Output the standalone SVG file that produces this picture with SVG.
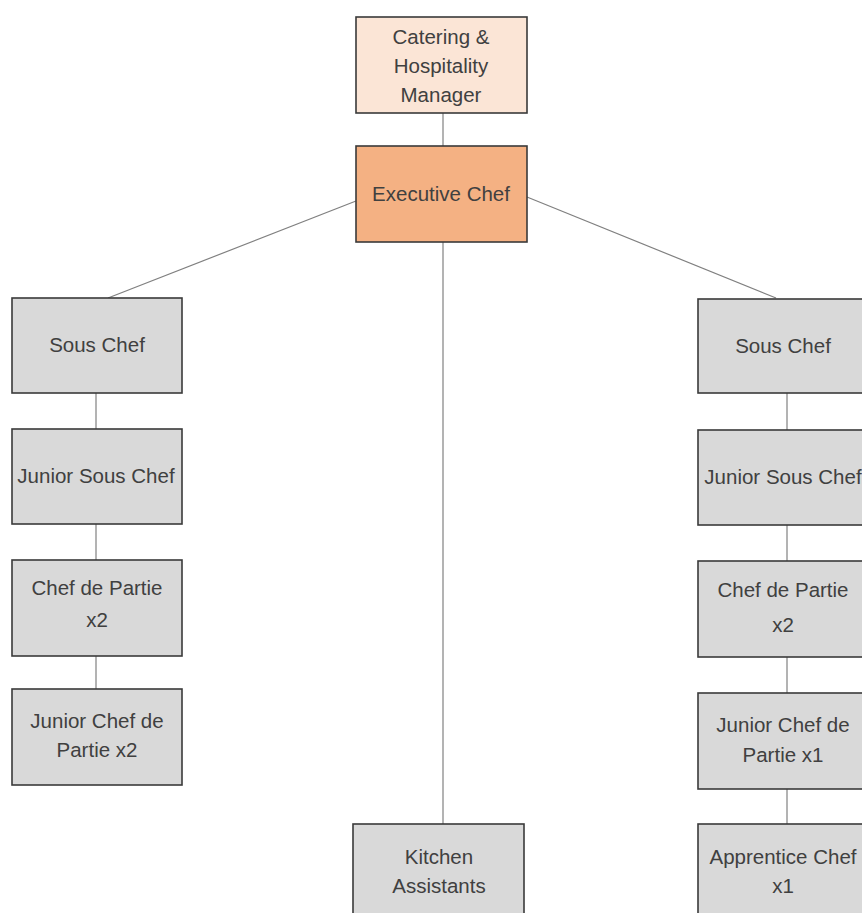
<svg xmlns="http://www.w3.org/2000/svg" width="862" height="913" viewBox="0 0 862 913">
<style>
.box{stroke:#3a3a3a;stroke-width:1.6}
.g{fill:#d9d9d9}
.lt{fill:#fbe5d6}
.dk{fill:#f4b183}
text{font-family:"Liberation Sans",Arial,sans-serif;font-size:20.5px;fill:#404040;text-anchor:middle}
.c{stroke:#808080;stroke-width:1.2;fill:none}
</style>
<rect width="862" height="913" fill="#ffffff"/>
<g id="connectors">
<line class="c" x1="443" y1="113" x2="443" y2="146"/>
<line class="c" x1="356" y1="201" x2="108" y2="298"/>
<line class="c" x1="527" y1="197" x2="776" y2="298"/>
<line class="c" x1="443" y1="242" x2="443" y2="824"/>
<line class="c" x1="96" y1="393" x2="96" y2="429"/>
<line class="c" x1="96" y1="524" x2="96" y2="560"/>
<line class="c" x1="96" y1="656" x2="96" y2="689"/>
<line class="c" x1="787" y1="393" x2="787" y2="430"/>
<line class="c" x1="787" y1="525" x2="787" y2="561"/>
<line class="c" x1="787" y1="657" x2="787" y2="693"/>
<line class="c" x1="787" y1="789" x2="787" y2="824"/>
</g>
<g id="catering">
<rect class="box lt" x="356" y="17" width="171" height="96"/>
<text x="441" y="44">Catering &amp;</text>
<text x="441" y="73">Hospitality</text>
<text x="441" y="102">Manager</text>
</g>
<g id="executive">
<rect class="box dk" x="356" y="146" width="171" height="96"/>
<text x="441" y="201">Executive Chef</text>
</g>
<g id="sous-left">
<rect class="box g" x="12" y="298" width="170" height="95"/>
<text x="97" y="352">Sous Chef</text>
</g>
<g id="jsous-left">
<rect class="box g" x="12" y="429" width="170" height="95"/>
<text x="96" y="483">Junior Sous Chef</text>
</g>
<g id="cdp-left">
<rect class="box g" x="12" y="560" width="170" height="96"/>
<text x="97" y="595">Chef de Partie</text>
<text x="97" y="627">x2</text>
</g>
<g id="jcdp-left">
<rect class="box g" x="12" y="689" width="170" height="96"/>
<text x="97" y="728">Junior Chef de</text>
<text x="97" y="757">Partie x2</text>
</g>
<g id="kitchen">
<rect class="box g" x="353" y="824" width="171" height="100"/>
<text x="439" y="864">Kitchen</text>
<text x="439" y="893">Assistants</text>
</g>
<g id="sous-right">
<rect class="box g" x="698" y="299" width="170" height="94"/>
<text x="783" y="353">Sous Chef</text>
</g>
<g id="jsous-right">
<rect class="box g" x="698" y="430" width="170" height="95"/>
<text x="783" y="484">Junior Sous Chef</text>
</g>
<g id="cdp-right">
<rect class="box g" x="698" y="561" width="170" height="96"/>
<text x="783" y="597">Chef de Partie</text>
<text x="783" y="632">x2</text>
</g>
<g id="jcdp-right">
<rect class="box g" x="698" y="693" width="170" height="96"/>
<text x="783" y="732">Junior Chef de</text>
<text x="783" y="762">Partie x1</text>
</g>
<g id="apprentice">
<rect class="box g" x="698" y="824" width="170" height="100"/>
<text x="783" y="864">Apprentice Chef</text>
<text x="783" y="893">x1</text>
</g>
</svg>
